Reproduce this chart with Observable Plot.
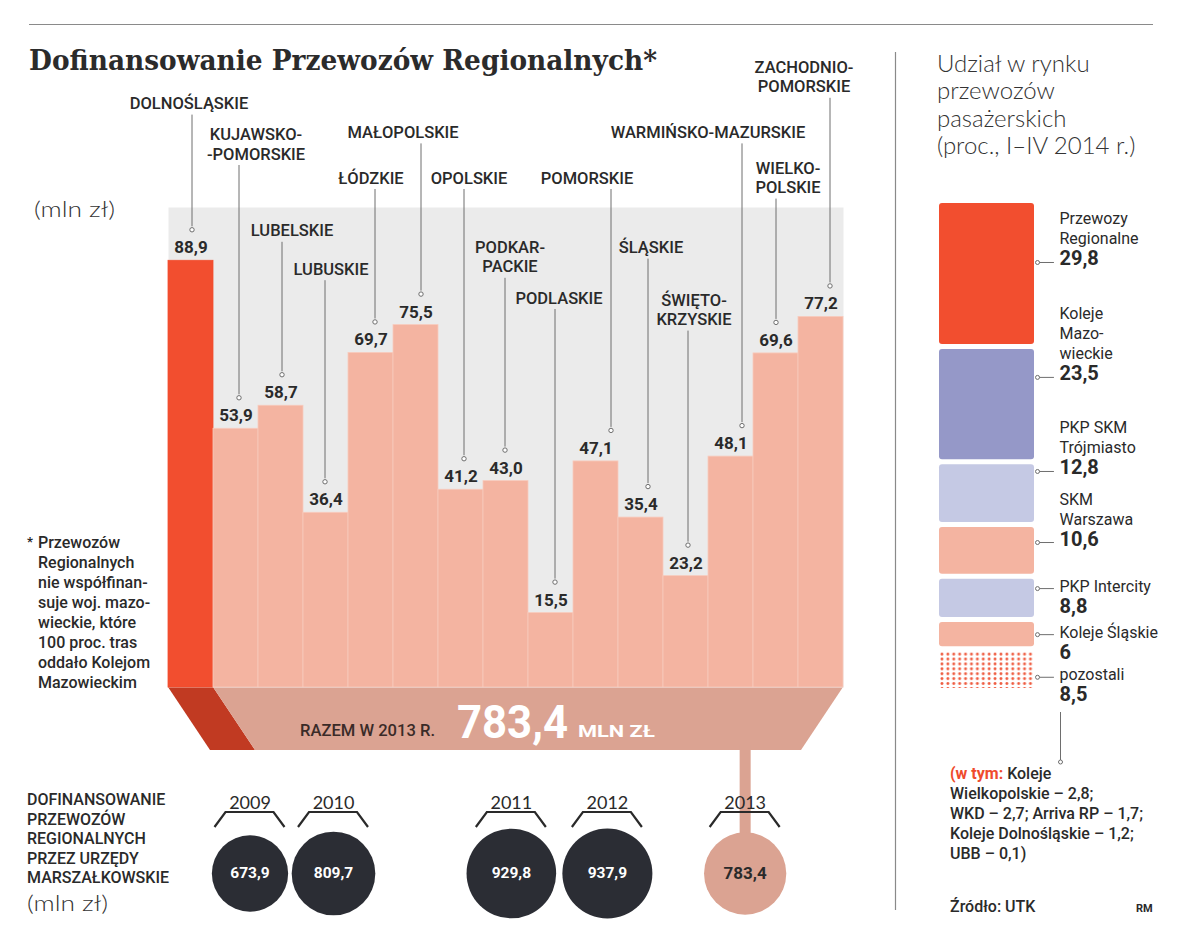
<!DOCTYPE html>
<html><head><meta charset="utf-8">
<script src="https://cdn.jsdelivr.net/npm/d3@7"></script>
<script src="https://cdn.jsdelivr.net/npm/@observablehq/plot@0.6"></script>
<style>
html,body{margin:0;padding:0;background:#fff;}
#chart{position:relative;width:1200px;height:945px;overflow:hidden;background:#fff;}
#chart svg{position:absolute;left:0;top:0;max-width:none;}
</style></head><body><div id="chart"></div>
<script>
// ---------- DATA ----------
const regions = ["Dolnośląskie","Kujawsko-pomorskie","Lubelskie","Lubuskie","Łódzkie","Małopolskie","Opolskie","Podkarpackie","Podlaskie","Pomorskie","Śląskie","Świętokrzyskie","Warmińsko-mazurskie","Wielkopolskie","Zachodniopomorskie"];
const regionLabels = ["DOLNOŚLĄSKIE","KUJAWSKO-\n-POMORSKIE","LUBELSKIE","LUBUSKIE","ŁÓDZKIE","MAŁOPOLSKIE","OPOLSKIE","PODKAR-\nPACKIE","PODLASKIE","POMORSKIE","ŚLĄSKIE","ŚWIĘTO-\nKRZYSKIE","WARMIŃSKO-MAZURSKIE","WIELKO-\nPOLSKIE","ZACHODNIO-\nPOMORSKIE"];
const funding2013 = [88.9,53.9,58.7,36.4,69.7,75.5,41.2,43.0,15.5,47.1,35.4,23.2,48.1,69.6,77.2];
const total2013 = 783.4;

const years = ["2009","2010","2011","2012","2013"];
const yearTotals = [673.9,809.7,929.8,937.9,783.4];

const companies = ["Przewozy\nRegionalne","Koleje\nMazo-\nwieckie","PKP SKM\nTrójmiasto","SKM\nWarszawa","PKP Intercity","Koleje Śląskie","pozostali"];
const marketShare = [29.8,23.5,12.8,10.6,8.8,6,8.5];
const otherOperators = ["Koleje Wielkopolskie","WKD","Arriva RP","Koleje Dolnośląskie","UBB"];
const otherShares = [2.8,2.7,1.7,1.2,0.1];

// ---------- LAYOUT (annotation placement) ----------
const labelLevel = [120.5,110,94,86,105,114.5,105,86.5,80,105,90.5,75.5,114.5,103,124];
const labelDx   = [-2,20,11,5,0,-13,8,4,8,-9,10,8,-23,12,-17];
const leaderDx  = [1,3,1,-1,4,5,3,-1,4,15,7,2,11,0,9];
const shareLeaderAt = [12.55,36.0,55.2,69.7,79.1,88.5,97.2];
const shareLeaderOn = ["value","value","value","value","name","name","name"];
const yearSlot = [0,1,3.13,4.28,5.93];

// ---------- STYLE ----------
const RED="#f24e2f", SALMON="#f4b4a1", GRAY="#ebebeb", FUNNEL="#dba392", DARKRED="#c13a22",
      INK="#2a2a2a", DARK="#2b2d34", PURPLE="#9598c8", LAVENDER="#c5c9e4", LINE="#6e6e6e";
const shareFill = [RED,PURPLE,LAVENDER,SALMON,LAVENDER,SALMON,"url(#dots)"];
const fmt = v => v.toFixed(1).replace(".", ",");
const fmtS = v => (Number.isInteger(v) ? String(v) : fmt(v));

const root = document.getElementById("chart");

// ---------- PLOT A: regional bars ----------
const rows = regions.map((r,i)=>({region:r,value:funding2013[i],label:regionLabels[i],level:labelLevel[i],i}));
const plotA = Plot.plot({
  width:1200, height:945, marginLeft:168, marginRight:357, marginTop:207, marginBottom:258,
  x:{type:"band", domain:regions, padding:0, axis:null},
  y:{domain:[0,100], axis:null},
  color:{type:"identity"},
  style:{background:"transparent", fontFamily:"Roboto, sans-serif", color:INK},
  marks:[
    Plot.frame({fill:GRAY, stroke:null}),
    Plot.barY(rows,{x:"region",y:"value",fill:d=>d.i===0?RED:SALMON,stroke:d=>d.i===0?RED:"#f8cbbd",strokeWidth:0.8}),
    ...rows.map((d,i)=>Plot.ruleX([d],{x:"region",y1:"level",y2:"value",insetTop:6,insetBottom:34,dx:leaderDx[i],stroke:LINE,strokeWidth:1})),
    ...rows.map((d,i)=>Plot.dot([d],{x:"region",y:"value",dy:-31,dx:leaderDx[i],r:2.2,fill:"#fff",stroke:LINE,strokeWidth:1})),
    Plot.text(rows,{x:"region",y:"value",text:d=>fmt(d.value),dy:-13,fontSize:17,fontWeight:700,fill:INK}),
    ...rows.map((d,i)=>Plot.text([d],{x:"region",y:"level",text:"label",lineAnchor:"bottom",lineHeight:1.18,dx:labelDx[i],fontSize:16.5,fontWeight:500,fill:INK}))
  ]
});
root.appendChild(plotA);

// funnel under the bars, derived from the scales
{
  const xs = plotA.scale("x"), ys = plotA.scale("y");
  const bw = xs.bandwidth;
  const L = xs.apply(regions[0]), R = xs.apply(regions[regions.length-1]) + bw;
  const y0 = ys.apply(0), y1 = ys.apply(-13.1);
  const s = 42;
  const g = d3.select(plotA).insert("g", ":first-child");
  g.append("path").attr("d",`M${L},${y0}L${L+bw},${y0}L${L+bw+s},${y1}L${L+s},${y1}Z`).attr("fill",DARKRED);
  g.append("path").attr("d",`M${L+bw},${y0}L${R},${y0}L${R-s},${y1}L${L+bw+s},${y1}Z`).attr("fill",FUNNEL);
}

// ---------- PLOT B: market share stack ----------
const compRows = companies.map((c,i)=>({name:c,value:marketShare[i],at:shareLeaderAt[i],on:shareLeaderOn[i],i}));
const plotB = Plot.plot({
  width:1200, height:945, marginLeft:939, marginRight:166, marginTop:200.5, marginBottom:254.5,
  x:{domain:[0,1], axis:null}, y:{domain:[0,100], reverse:true, axis:null},
  color:{type:"identity"},
  style:{background:"transparent", fontFamily:"Roboto, sans-serif", color:INK},
  marks:[
    Plot.rectY(compRows,{x1:0,x2:1,y:"value",fill:d=>shareFill[d.i],insetTop:2.5,insetBottom:2.5,rx:3}),
    Plot.ruleY(compRows,{y:"at",x1:1,x2:1.21,insetLeft:5,stroke:LINE,strokeWidth:1}),
    Plot.dot(compRows,{x:1,y:"at",dx:3,r:2,fill:"#fff",stroke:LINE,strokeWidth:1}),
    Plot.text(compRows.filter(d=>d.on==="value"),{x:1.263,y:"at",text:"name",textAnchor:"start",lineAnchor:"bottom",lineHeight:1.25,dy:-18,fontSize:16,fill:INK}),
    Plot.text(compRows.filter(d=>d.on==="value"),{x:1.263,y:"at",text:d=>fmtS(d.value),textAnchor:"start",lineAnchor:"bottom",dy:3,fontSize:20,fontWeight:700,fill:INK}),
    Plot.text(compRows.filter(d=>d.on==="name"),{x:1.263,y:"at",text:"name",textAnchor:"start",lineAnchor:"bottom",dy:3,fontSize:16,fill:INK}),
    Plot.text(compRows.filter(d=>d.on==="name"),{x:1.263,y:"at",text:d=>fmtS(d.value),textAnchor:"start",lineAnchor:"bottom",dy:24,fontSize:20,fontWeight:700,fill:INK})
  ]
});
{
  const defs = d3.select(plotB).insert("defs",":first-child");
  const p = defs.append("pattern").attr("id","dots").attr("patternUnits","userSpaceOnUse")
    .attr("width",5.9).attr("height",4.9).attr("x",939).attr("y",0);
  p.append("rect").attr("width",5.9).attr("height",4.9).attr("fill","#fff");
  p.append("circle").attr("cx",2.95).attr("cy",2.45).attr("r",1.45).attr("fill","#ef5a3e");
}
root.appendChild(plotB);

// ---------- PLOT C: yearly totals ----------
const yearRows = years.map((y,i)=>({year:y,value:yearTotals[i],slot:yearSlot[i],i}));
const plotC = Plot.plot({
  width:1200, height:200, marginTop:56, marginBottom:0, marginLeft:249.5, marginRight:449.5,
  x:{domain:[0,6], axis:null},
  r:{type:"sqrt", domain:[0,937.9], range:[0,45]},
  color:{type:"identity"},
  style:{background:"transparent", fontFamily:"Roboto, sans-serif", color:INK},
  marks:[
    Plot.ruleX(yearRows.filter(d=>d.year==="2013"),{x:"slot",insetTop:-56,insetBottom:72,stroke:FUNNEL,strokeWidth:11}),
    Plot.dot(yearRows,{x:"slot",r:"value",fill:d=>d.year==="2013"?FUNNEL:DARK}),
    Plot.text(yearRows,{x:"slot",text:d=>fmt(d.value),fill:d=>d.year==="2013"?INK:"#fff",fontSize:d=>d.year==="2013"?17:15.5,fontWeight:700}),
    Plot.text(yearRows,{x:"slot",text:"year",dy:-70,fontSize:18,fontWeight:400,fontFamily:"Lato, sans-serif",fill:INK})
  ]
});
plotC.style.top = "745px";
{
  const xs = plotC.scale("x");
  const g = d3.select(plotC).append("g").attr("fill","none").attr("stroke",INK).attr("stroke-width",2.2);
  yearRows.forEach(d=>{
    const cx = xs.apply(d.slot);
    g.append("path").attr("d",`M${cx-35},82L${cx-24},67L${cx+24},67L${cx+35},82`);
  });
}
root.appendChild(plotC);

// ---------- OVERLAY: titles and notes ----------
const ov = d3.create("svg").attr("width",1200).attr("height",945).attr("viewBox","0 0 1200 945")
  .style("pointer-events","none");
const t = (x,y,s,o={}) => {
  const e = ov.append("text").attr("x",x).attr("y",y).text(s)
    .attr("font-family",o.family||"Roboto, sans-serif").attr("font-size",o.size||16)
    .attr("font-weight",o.weight||400).attr("fill",o.fill||INK);
  if (o.len) e.attr("textLength",o.len).attr("lengthAdjust","spacingAndGlyphs");
  if (o.anchor) e.attr("text-anchor",o.anchor);
  return e;
};
ov.append("line").attr("x1",29).attr("x2",1153).attr("y1",24.5).attr("y2",24.5).attr("stroke","#8a8a8a").attr("stroke-width",1.2);
ov.append("line").attr("x1",895.5).attr("x2",895.5).attr("y1",52).attr("y2",910).attr("stroke","#8a8a8a").attr("stroke-width",1.2);

t(29,70,"Dofinansowanie Przewozów Regionalnych*",{family:"DejaVu Serif, serif",size:27,weight:700,len:628,fill:"#2b2b2b"});
t(34,217,"(mln zł)",{family:"Lato, sans-serif",size:22,weight:300,len:81,fill:"#333"});

["Udział w rynku","przewozów","pasażerskich","(proc., I–IV 2014 r.)"].forEach((s,i)=>
  t(937,72+i*27.3,s,{family:"Lato, sans-serif",size:24,weight:300,fill:"#333"}));

// footnote
t(27,546,"*",{size:13,weight:700});
["Przewozów","Regionalnych","nie współfinan-","suje woj. mazo-","wieckie, które","100 proc. tras","oddało Kolejom","Mazowieckim"]
  .forEach((s,i)=>t(38,548+i*20,s,{size:16,weight:500}));

// funnel texts
t(300,736,"RAZEM W 2013 R.",{size:16.5,weight:500,len:135,fill:"#3a2b28"});
t(457,738,fmt(total2013),{size:47,weight:700,len:111,fill:"#fff"});
t(578,737,"MLN ZŁ",{size:16.5,weight:700,len:77,fill:"#fff"});

// bottom-left caption
["DOFINANSOWANIE","PRZEWOZÓW","REGIONALNYCH","PRZEZ URZĘDY","MARSZAŁKOWSKIE"]
  .forEach((s,i)=>t(27,805+i*19.5,s,{size:16,weight:500}));
t(27,911,"(mln zł)",{family:"Lato, sans-serif",size:22,weight:300,len:81,fill:"#333"});

// pozostali breakdown
ov.append("line").attr("x1",1060.5).attr("x2",1060.5).attr("y1",712).attr("y2",760).attr("stroke",LINE).attr("stroke-width",1);
ov.append("circle").attr("cx",1060.5).attr("cy",762).attr("r",2).attr("fill","#fff").attr("stroke",LINE);
{
  const first = t(950,779,"",{size:16,weight:500});
  first.append("tspan").attr("fill","#ef4b2c").attr("font-weight",700).text("(w tym: ");
  first.append("tspan").text(otherOperators[0].split(" ")[0]);
  const lines = [
    `${otherOperators[0].split(" ")[1]} – ${fmt(otherShares[0])};`,
    `${otherOperators[1]} – ${fmt(otherShares[1])}; ${otherOperators[2]} – ${fmt(otherShares[2])};`,
    `${otherOperators[3]} – ${fmt(otherShares[3])};`,
    `${otherOperators[4]} – ${fmt(otherShares[4])})`
  ];
  lines.forEach((s,i)=>t(950,799+i*20,s,{size:16,weight:500}));
}
t(950,912,"Źródło: UTK",{size:16,weight:500});
t(1136,912,"RM",{size:11,weight:700});

root.appendChild(ov.node());
</script></body></html>
